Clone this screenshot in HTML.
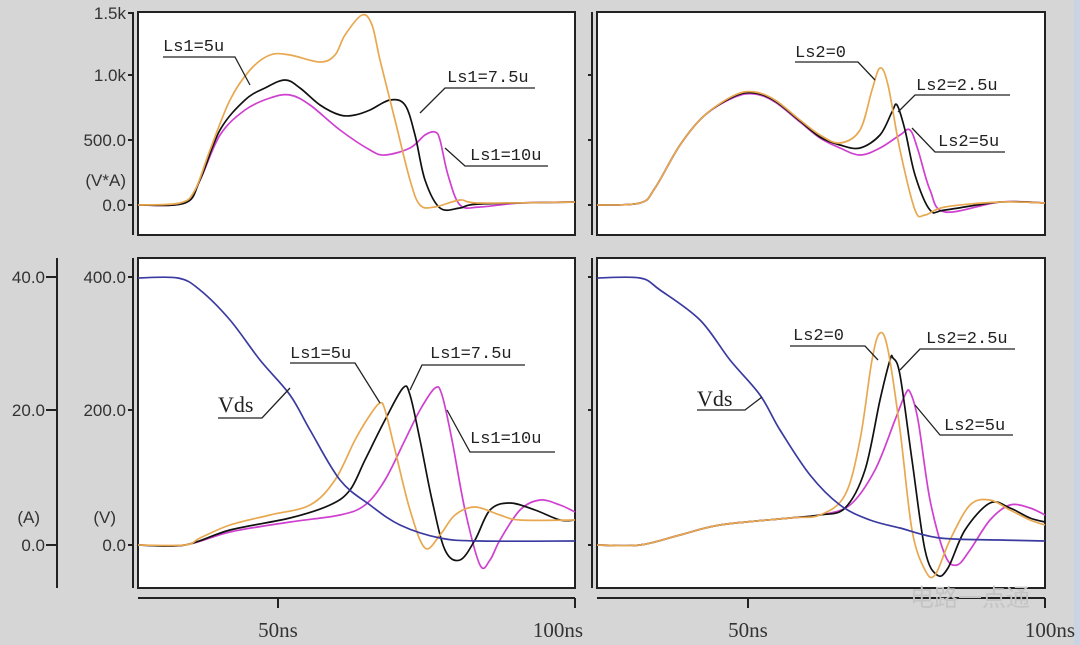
<!DOCTYPE html>
<html><head><meta charset="utf-8"><style>
html,body{margin:0;padding:0;background:#d6d6d6;}
svg{display:block}
</style></head><body>
<svg id="s" width="1080" height="645" xmlns="http://www.w3.org/2000/svg">
<rect width="1080" height="645" fill="#d6d6d6"/>
<rect x="1074" y="0" width="6" height="645" fill="#c8d4e4"/>
<rect x="138" y="12" width="437" height="223" fill="#fff" stroke="#222" stroke-width="2"/>
<rect x="597" y="12" width="448" height="223" fill="#fff" stroke="#222" stroke-width="2"/>
<rect x="138" y="258" width="437" height="330" fill="#fff" stroke="#222" stroke-width="2"/>
<rect x="597" y="258" width="448" height="330" fill="#fff" stroke="#222" stroke-width="2"/>
<g stroke="#222" stroke-width="2" fill="none">
<line x1="133" y1="12" x2="133" y2="235"/>
<line x1="592" y1="12" x2="592" y2="235"/>
<line x1="133" y1="258" x2="133" y2="588"/>
<line x1="57" y1="258" x2="57" y2="588"/>
<line x1="592" y1="258" x2="592" y2="588"/>
<line x1="138" y1="598" x2="575" y2="598"/>
<line x1="597" y1="598" x2="1045" y2="598"/>
<line x1="278" y1="598" x2="278" y2="608"/><line x1="575" y1="598" x2="575" y2="608"/>
<line x1="748" y1="598" x2="748" y2="608"/><line x1="1045" y1="598" x2="1045" y2="608"/>
<line x1="128" y1="13" x2="133" y2="13"/><line x1="128" y1="75" x2="133" y2="75"/><line x1="128" y1="140" x2="133" y2="140"/><line x1="128" y1="205" x2="133" y2="205"/>
<line x1="588" y1="75" x2="592" y2="75"/><line x1="588" y1="140" x2="592" y2="140"/><line x1="588" y1="205" x2="592" y2="205"/>
<line x1="128" y1="277" x2="133" y2="277"/><line x1="128" y1="410" x2="133" y2="410"/><line x1="128" y1="545" x2="133" y2="545"/>
<line x1="46" y1="277" x2="57" y2="277"/><line x1="46" y1="410" x2="57" y2="410"/><line x1="46" y1="545" x2="57" y2="545"/>
<line x1="588" y1="277" x2="592" y2="277"/><line x1="588" y1="410" x2="592" y2="410"/><line x1="588" y1="545" x2="592" y2="545"/>
</g>
<g font-family="Liberation Sans, sans-serif" font-size="17" fill="#333" text-anchor="end">
<text x="126" y="19">1.5k</text><text x="126" y="81">1.0k</text><text x="126" y="146">500.0</text>
<text x="126" y="186">(V*A)</text><text x="126" y="211">0.0</text>
<text x="45" y="283">40.0</text><text x="45" y="416">20.0</text><text x="40" y="523">(A)</text><text x="45" y="551">0.0</text>
<text x="126" y="283">400.0</text><text x="126" y="416">200.0</text><text x="116" y="523">(V)</text><text x="126" y="551">0.0</text>
</g>
<g font-family="Liberation Serif, serif" font-size="21" fill="#333" text-anchor="middle">
<text x="278" y="637">50ns</text><text x="558" y="637">100ns</text>
<text x="748" y="637">50ns</text><text x="1050" y="637">100ns</text>
</g>
<g id="curves" fill="none" stroke-width="1.7" stroke-linejoin="round"></g>
<g font-family="Liberation Mono, monospace" font-size="17" fill="#222">
<text x="163" y="51">Ls1=5u</text><text x="447" y="82">Ls1=7.5u</text><text x="470" y="160">Ls1=10u</text>
<text x="795" y="57">Ls2=0</text><text x="916" y="90">Ls2=2.5u</text><text x="938" y="146">Ls2=5u</text>
<text x="290" y="358">Ls1=5u</text><text x="430" y="358">Ls1=7.5u</text><text x="470" y="443">Ls1=10u</text>
<text x="793" y="340">Ls2=0</text><text x="926" y="343">Ls2=2.5u</text><text x="944" y="430">Ls2=5u</text>
</g>
<g font-family="Liberation Serif, serif" font-size="22" fill="#222">
<text x="218" y="412">Vds</text><text x="697" y="406">Vds</text>
</g>
<g stroke="#222" stroke-width="1.3" fill="none">
<polyline points="163,57 235,57 250,85"/>
<polyline points="535,88 445,88 420,113"/>
<polyline points="548,166 465,166 445,148"/>
<polyline points="795,62 858,62 875,80"/>
<polyline points="1010,95 915,95 898,112"/>
<polyline points="1005,152 935,152 912,128"/>
<polyline points="290,363 355,363 380,403"/>
<polyline points="525,365 422,365 410,390"/>
<polyline points="218,418 262,418 290,388"/>
<polyline points="555,452 470,452 447,410"/>
<polyline points="790,346 865,346 878,360"/>
<polyline points="1015,349 920,349 900,370"/>
<polyline points="697,410 745,410 762,397"/>
<polyline points="1013,435 940,435 915,405"/>
</g>
<text x="910" y="606" font-family="Liberation Sans, Noto Sans CJK SC, sans-serif" font-size="24" fill="#c4c4c4">电路一点通</text>
</svg>
<script>
var O="#e8a850",K="#111",M="#d040d0",B="#3a3aa0";
var C=[
[M,[[138,205],[185,203],[200,180],[220,135],[245,110],[270,98],[290,95],[310,105],[340,130],[370,150],[385,155],[410,148],[425,135],[435,132],[440,140],[448,175],[460,205],[480,207],[520,203],[575,202]]],
[K,[[138,205],[185,203],[200,180],[220,130],[245,100],[265,88],[285,80],[300,88],[320,105],[340,115],[355,115],[370,110],[390,100],[405,105],[415,135],[425,180],[440,208],[460,208],[480,204],[575,202]]],
[O,[[138,205],[180,203],[195,190],[210,150],[230,100],[250,70],[270,55],[290,55],[320,62],[335,55],[345,35],[362,15],[372,25],[380,60],[395,120],[410,180],[420,205],[435,207],[460,200],[480,203],[575,202]]],
[M,[[597,205],[640,203],[655,188],[680,145],[705,115],[735,97],[755,94],[775,102],[800,122],[820,138],[840,148],[860,155],[880,148],[900,135],[910,130],[918,150],[930,190],[945,212],[1000,202],[1045,203]]],
[K,[[597,205],[640,203],[655,188],[680,145],[705,115],[735,96],[755,93],[775,101],[800,121],[820,137],[840,145],[860,148],[880,135],[892,112],[897,105],[905,130],[915,175],[930,210],[945,210],[1000,202],[1045,203]]],
[O,[[597,205],[640,203],[655,188],[680,145],[705,115],[735,95],[755,92],[775,100],[800,120],[820,135],[840,143],[860,130],[872,90],[880,68],[888,85],[900,150],[915,210],[925,215],[945,207],[1000,202],[1045,203]]],
[M,[[138,545],[185,545],[230,532],[290,522],[340,515],[365,505],[385,480],[405,440],[420,410],[435,388],[442,395],[452,440],[465,510],[480,565],[490,560],[500,540],[520,510],[540,500],[560,505],[575,512]]],
[K,[[138,545],[185,545],[230,530],[290,518],[330,505],[350,490],[365,460],[385,420],[403,388],[410,395],[420,440],[432,500],[445,550],[460,560],[475,540],[490,510],[510,503],[535,510],[560,520],[575,520]]],
[O,[[138,545],[185,545],[200,538],[230,525],[270,515],[310,505],[335,480],[355,440],[370,415],[380,403],[385,410],[395,450],[410,510],[425,548],[440,535],[455,515],[475,507],[500,515],[520,520],[575,520]]],
[B,[[138,278],[178,278],[200,290],[230,320],[260,360],[290,395],[310,430],[340,480],[370,505],[400,525],[440,538],[480,541],[575,541]]],
[M,[[597,545],[640,545],[680,535],[720,525],[790,518],[820,515],[850,505],[875,470],[895,420],[905,395],[910,392],[918,420],[930,500],[945,555],[957,565],[970,550],[990,520],[1010,505],[1030,508],[1045,515]]],
[K,[[597,545],[640,545],[680,535],[720,525],[790,518],[820,515],[845,508],[865,470],[880,400],[890,360],[893,358],[900,375],[912,460],[925,550],[937,575],[948,568],[965,530],[990,503],[1010,508],[1030,518],[1045,522]]],
[O,[[597,545],[640,545],[680,535],[720,525],[790,518],[820,515],[845,495],[860,440],[872,360],[880,333],[888,350],[900,430],[912,530],[925,570],[935,575],[950,540],[970,505],[990,500],[1010,510],[1030,520],[1045,525]]],
[B,[[597,278],[640,278],[660,290],[700,320],[730,360],[760,395],[780,430],[810,475],[840,505],[870,520],[900,528],[940,538],[1000,540],[1045,541]]]
];
function cr(p){var d="M"+p[0][0]+","+p[0][1];for(var i=0;i<p.length-1;i++){var a=p[i-1]||p[i],b=p[i],c=p[i+1],e=p[i+2]||c;
d+=" C"+(b[0]+(c[0]-a[0])/6)+","+(b[1]+(c[1]-a[1])/6)+" "+(c[0]-(e[0]-b[0])/6)+","+(c[1]-(e[1]-b[1])/6)+" "+c[0]+","+c[1];}return d;}
var g=document.getElementById("curves");
C.forEach(function(s){var p=document.createElementNS("http://www.w3.org/2000/svg","path");p.setAttribute("d",cr(s[1]));p.setAttribute("stroke",s[0]);g.appendChild(p);});
</script>
</body></html>
